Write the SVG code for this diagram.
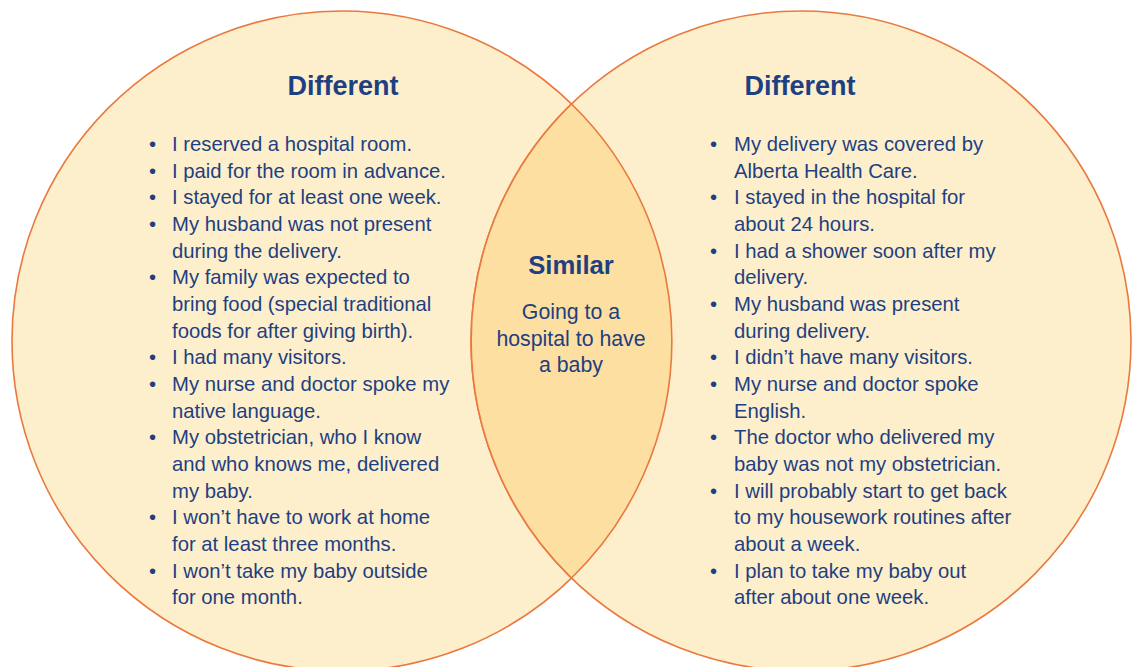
<svg xmlns="http://www.w3.org/2000/svg" width="1133" height="667" viewBox="0 0 1133 667">
<style>
.c{fill:#FDEFCC;stroke:#E9793E;stroke-width:1.6}
.lens{fill:#FDDFA1;stroke:none}
.h{font-family:"Liberation Sans",Arial,sans-serif;font-weight:bold;font-size:27px;fill:#1E3F82;text-anchor:middle}
.t{font-family:"Liberation Sans",Arial,sans-serif;font-size:20.3px;fill:#1E3F82}
.m{font-family:"Liberation Sans",Arial,sans-serif;font-size:21.3px;fill:#1E3F82;text-anchor:middle}
</style>
<rect width="1133" height="667" fill="#fff"/>
<defs>
<clipPath id="clipL"><circle cx="342" cy="341" r="330"/></clipPath>
</defs>
<g id="left-circle">
<circle class="c" cx="342" cy="341" r="330"/>
</g>
<g id="right-circle">
<circle class="c" cx="801" cy="341" r="330"/>
</g>
<g id="overlap">
<circle class="lens" cx="801" cy="341" r="330" clip-path="url(#clipL)"/>
<path d="M571.5,104 A330,330 0 0 0 571.5,578" fill="none" stroke="#E9793E" stroke-width="1.6"/>
<path d="M571.5,104 A330,330 0 0 1 571.5,578" fill="none" stroke="#E9793E" stroke-width="1.6"/>
</g>
<g id="left-text">
<text class="h" x="343" y="95">Different</text>
<g class="t">
<text x="149" y="151">•</text><text x="172" y="151">I reserved a hospital room.</text>
<text x="149" y="177.6">•</text><text x="172" y="177.6">I paid for the room in advance.</text>
<text x="149" y="204.3">•</text><text x="172" y="204.3">I stayed for at least one week.</text>
<text x="149" y="231">•</text><text x="172" y="231">My husband was not present</text>
<text x="172" y="257.6">during the delivery.</text>
<text x="149" y="284.3">•</text><text x="172" y="284.3">My family was expected to</text>
<text x="172" y="311">bring food (special traditional</text>
<text x="172" y="337.6">foods for after giving birth).</text>
<text x="149" y="364.3">•</text><text x="172" y="364.3">I had many visitors.</text>
<text x="149" y="391">•</text><text x="172" y="391">My nurse and doctor spoke my</text>
<text x="172" y="417.6">native language.</text>
<text x="149" y="444.3">•</text><text x="172" y="444.3">My obstetrician, who I know</text>
<text x="172" y="471">and who knows me, delivered</text>
<text x="172" y="497.6">my baby.</text>
<text x="149" y="524.3">•</text><text x="172" y="524.3">I won’t have to work at home</text>
<text x="172" y="551">for at least three months.</text>
<text x="149" y="577.6">•</text><text x="172" y="577.6">I won’t take my baby outside</text>
<text x="172" y="604.3">for one month.</text>
</g>
</g>
<g id="middle-text">
<text class="h" x="571" y="274" style="font-size:25.7px">Similar</text>
<text class="m" x="571" y="319">Going to a</text>
<text class="m" x="571" y="345.5">hospital to have</text>
<text class="m" x="571" y="372">a baby</text>
</g>
<g id="right-text">
<text class="h" x="800" y="95">Different</text>
<g class="t">
<text x="710" y="151">•</text><text x="734" y="151">My delivery was covered by</text>
<text x="734" y="177.6">Alberta Health Care.</text>
<text x="710" y="204.3">•</text><text x="734" y="204.3">I stayed in the hospital for</text>
<text x="734" y="231">about 24 hours.</text>
<text x="710" y="257.6">•</text><text x="734" y="257.6">I had a shower soon after my</text>
<text x="734" y="284.3">delivery.</text>
<text x="710" y="311">•</text><text x="734" y="311">My husband was present</text>
<text x="734" y="337.6">during delivery.</text>
<text x="710" y="364.3">•</text><text x="734" y="364.3">I didn’t have many visitors.</text>
<text x="710" y="391">•</text><text x="734" y="391">My nurse and doctor spoke</text>
<text x="734" y="417.6">English.</text>
<text x="710" y="444.3">•</text><text x="734" y="444.3">The doctor who delivered my</text>
<text x="734" y="471">baby was not my obstetrician.</text>
<text x="710" y="497.6">•</text><text x="734" y="497.6">I will probably start to get back</text>
<text x="734" y="524.3">to my housework routines after</text>
<text x="734" y="551">about a week.</text>
<text x="710" y="577.6">•</text><text x="734" y="577.6">I plan to take my baby out</text>
<text x="734" y="604.3">after about one week.</text>
</g>
</g>
</svg>
